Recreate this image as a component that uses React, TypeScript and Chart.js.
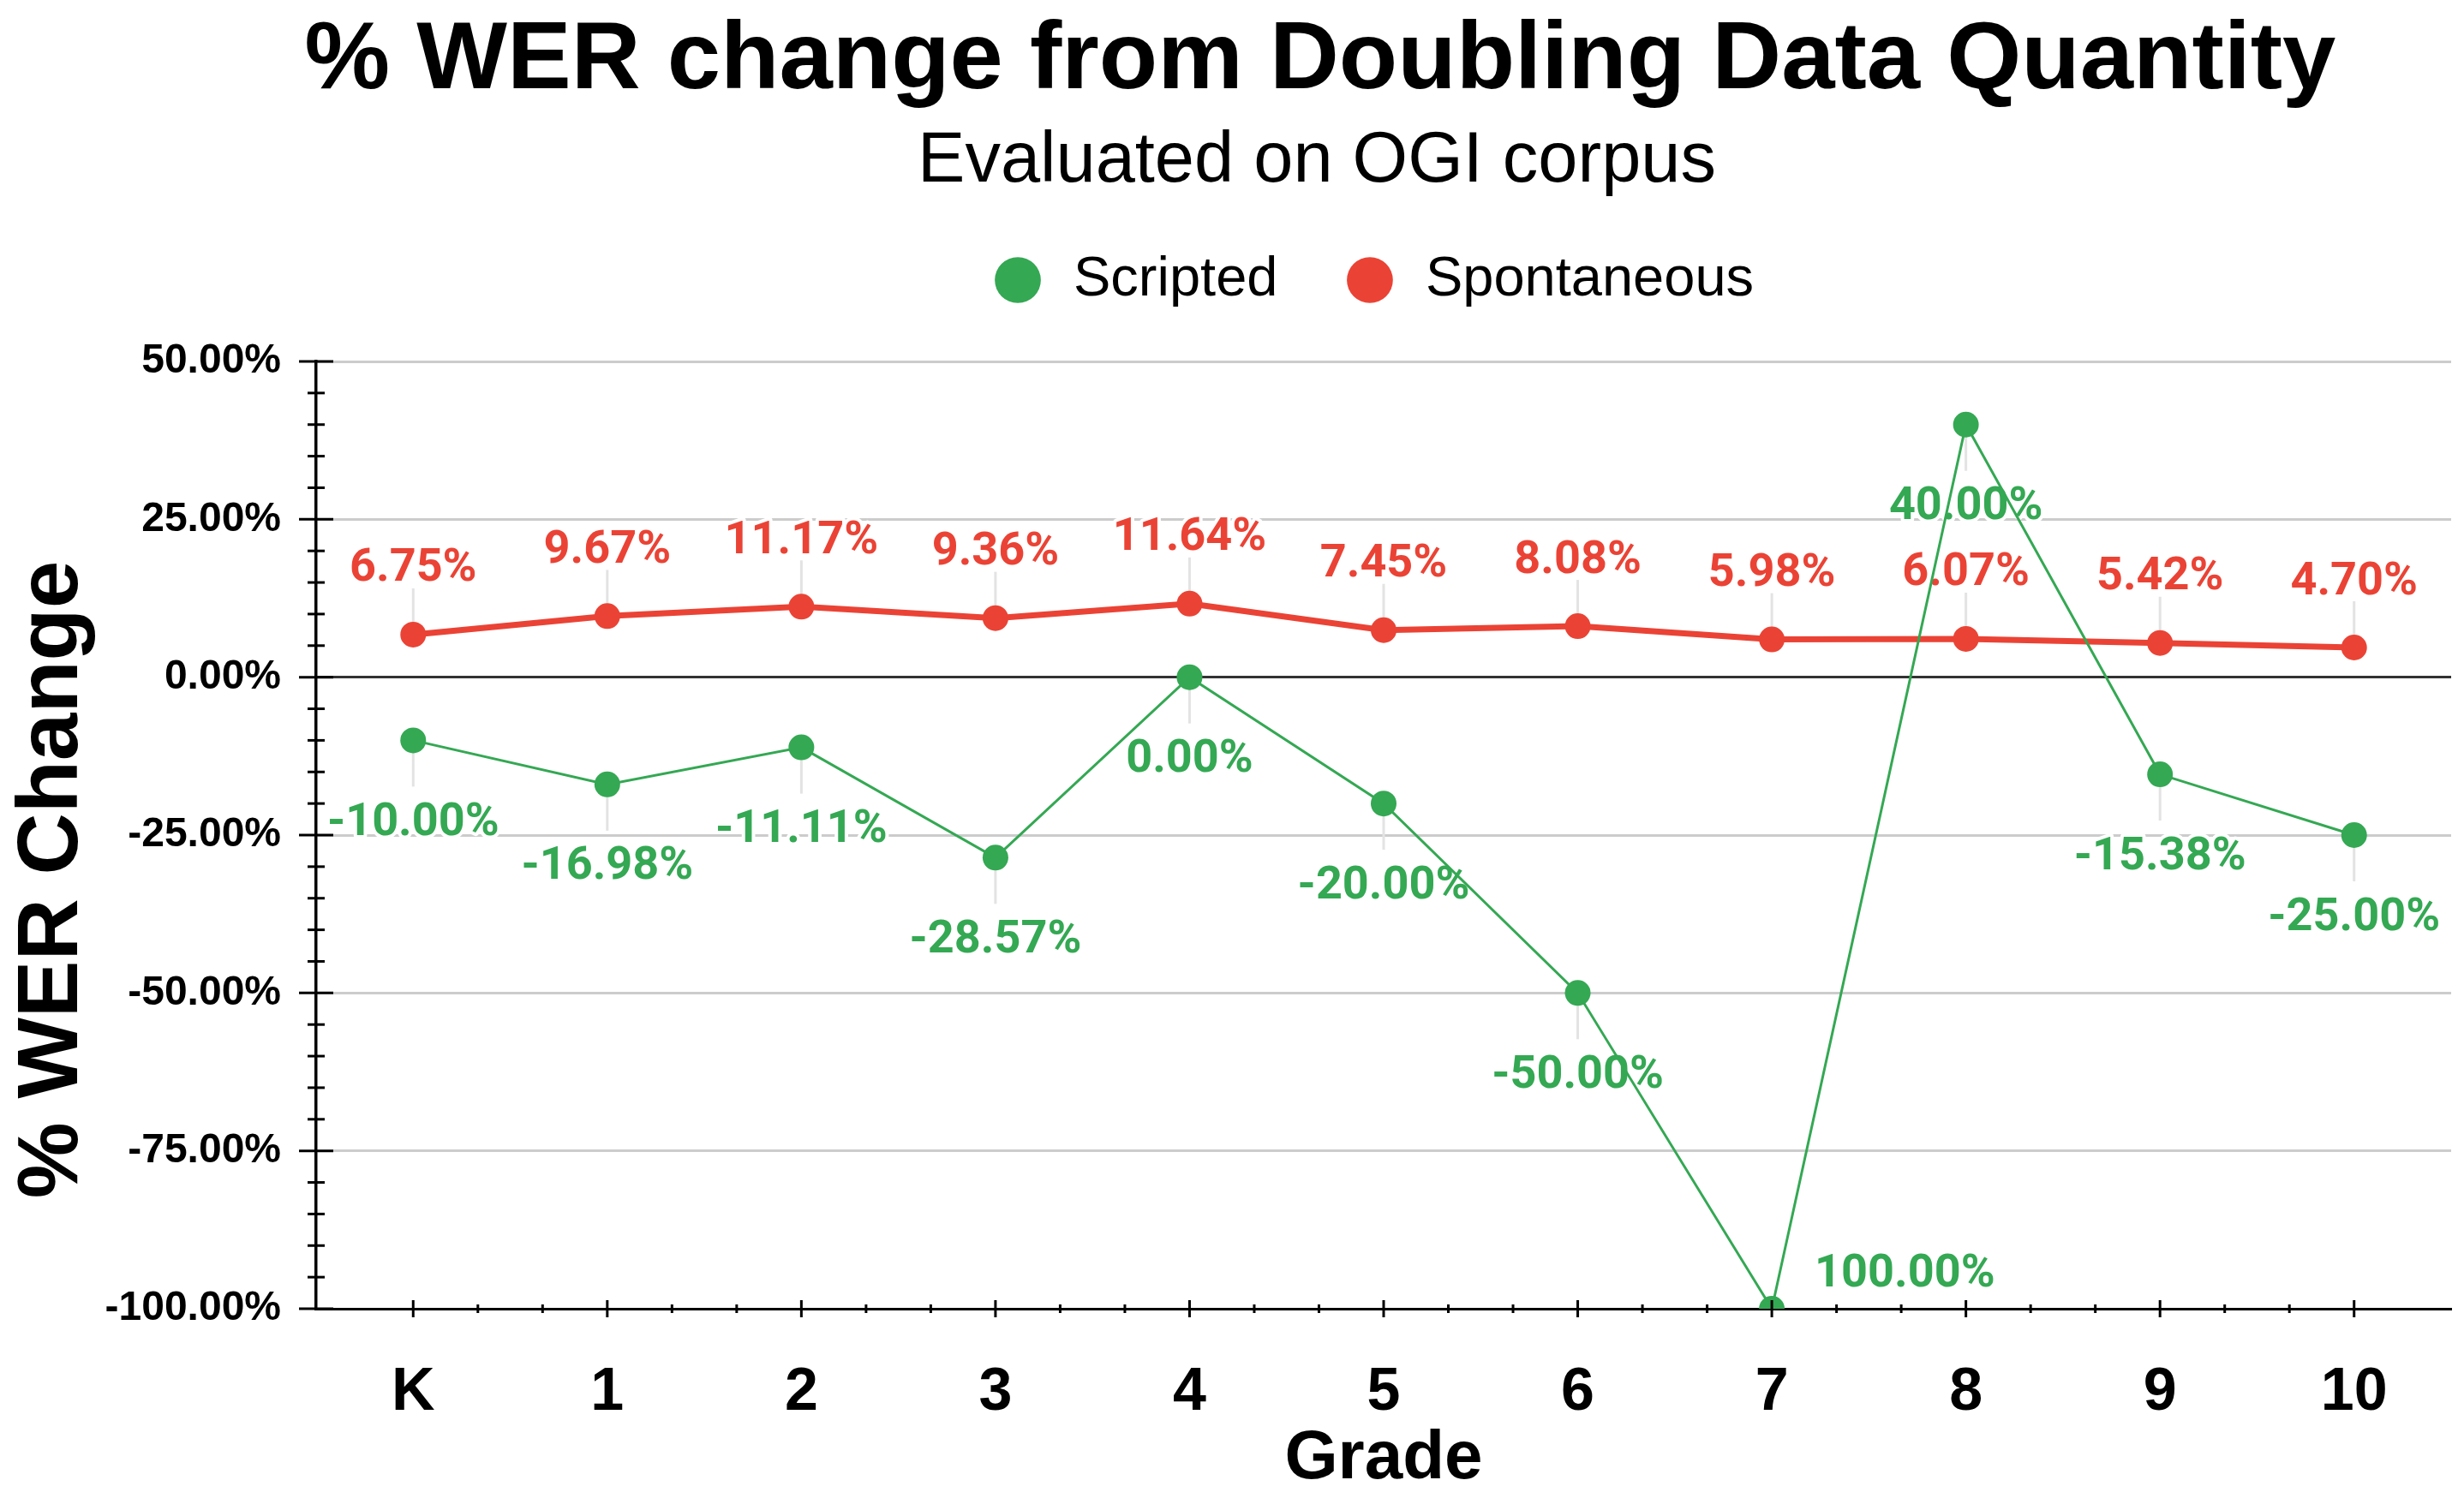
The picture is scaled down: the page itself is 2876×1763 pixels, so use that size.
import React, { useEffect, useRef } from 'react';
import { Chart, registerables } from 'chart.js';

Chart.register(...registerables);

const W = 2876;
const H = 1763;

const grades = ['K', '1', '2', '3', '4', '5', '6', '7', '8', '9', '10'];
const scripted = [-10, -16.98, -11.11, -28.57, 0, -20, -50, -100, 40, -15.38, -25];
const spontaneous = [6.75, 9.67, 11.17, 9.36, 11.64, 7.45, 8.08, 5.98, 6.07, 5.42, 4.7];
const seriesNames = ['Scripted', 'Spontaneous'];
const seriesColors = ['#34A853', '#EA4335'];
const seriesLineWidths = [3, 7];
const labelSides = ['below', 'above'];

const TITLE = '% WER change from Doubling Data Quantity';
const SUBTITLE = 'Evaluated on OGI corpus';
const X_TITLE = 'Grade';
const Y_TITLE = '% WER Change';

const Y_MIN = -100;
const Y_MAX = 50;
const Y_MAJOR = 25;
const Y_MINOR = 5;
const X_MINOR_PER_CAT = 3;

const SANS = '"Liberation Sans", Arial, sans-serif';
const LABEL_FONT = 'Roboto';
const LEGEND_FONT = 65;
const LEGEND_PAD = 75;

const fmt = (v: number) => v.toFixed(2) + '%';

const layoutShift = {
  id: 'layoutShift',
  afterLayout(chart: any) {
    const t = chart.titleBlock;
    const sub = chart.boxes.find((b: any) => b !== t && b.options && b.options.text === SUBTITLE);
    const lg = chart.legend;
    const place = (b: any, cx: number, top: number) => {
      if (!b) return;
      const h = b.bottom - b.top;
      const dx = cx - (b.left + b.right) / 2;
      b.left += dx;
      b.right += dx;
      b.top = top;
      b.bottom = top + h;
    };
    place(t, 1541, 72 - 67.2);
    place(sub, 1537, 189 - 49.8);
    if (lg && lg.lineWidths) {
      const naturalStart = (lg.left + LEGEND_PAD + lg.right - lg.lineWidths[0]) / 2;
      const dx = 1155.5 - naturalStart;
      const h = lg.bottom - lg.top;
      lg.left += dx;
      lg.right += dx;
      lg.top = 327 - LEGEND_FONT / 2 - LEGEND_PAD;
      lg.bottom = lg.top + h;
    }
  },
};

const pointLabels = {
  id: 'pointLabels',
  beforeDatasetsDraw(chart: any) {
    const ctx = chart.ctx;
    const yScale = chart.scales.y;
    chart.data.datasets.forEach((ds: any, di: number) => {
      const meta = chart.getDatasetMeta(di);
      const side = labelSides[di];
      meta.data.forEach((pt: any, i: number) => {
        const v = ds.data[i];
        const px = pt.x;
        const py = pt.y;
        ctx.save();
        ctx.font = `bold 54px ${LABEL_FONT}`;
        ctx.textBaseline = 'middle';
        ctx.lineJoin = 'round';
        let text = fmt(v);
        let tx = px;
        let ty;
        if (v <= yScale.min) {
          text = fmt(Math.abs(v));
          ctx.textAlign = 'left';
          tx = px + 50;
          ty = py - 40;
        } else {
          ctx.textAlign = 'center';
          ctx.strokeStyle = '#e3e3e3';
          ctx.lineWidth = 3;
          ctx.beginPath();
          ctx.moveTo(px, py);
          ctx.lineTo(px, side === 'above' ? py - 54 : py + 54);
          ctx.stroke();
          ty = side === 'above' ? py - 76 : py + 97;
        }
        ctx.strokeStyle = '#ffffff';
        ctx.lineWidth = 8;
        ctx.strokeText(text, tx, ty);
        ctx.fillStyle = seriesColors[di];
        ctx.fillText(text, tx, ty);
        ctx.restore();
      });
    });
  },
};

const axisExtras = {
  id: 'axisExtras',
  afterDraw(chart: any) {
    const ctx = chart.ctx;
    const area = chart.chartArea;
    const xs = chart.scales.x;
    const ys = chart.scales.y;
    ctx.save();
    ctx.strokeStyle = '#000';
    ctx.lineWidth = 3;
    for (let v = Y_MIN; v <= Y_MAX; v += Y_MINOR) {
      const py = ys.getPixelForValue(v);
      const len = v % Y_MAJOR === 0 ? 20 : 10;
      ctx.beginPath();
      ctx.moveTo(area.left - len, py);
      ctx.lineTo(area.left + len, py);
      ctx.stroke();
    }
    const n = grades.length;
    for (let i = 0; i < n; i++) {
      const px = xs.getPixelForValue(i);
      ctx.beginPath();
      ctx.moveTo(px, area.bottom - 10);
      ctx.lineTo(px, area.bottom + 10);
      ctx.stroke();
      if (i < n - 1) {
        const step = (xs.getPixelForValue(i + 1) - px) / X_MINOR_PER_CAT;
        for (let k = 1; k < X_MINOR_PER_CAT; k++) {
          ctx.beginPath();
          ctx.moveTo(px + step * k, area.bottom - 5);
          ctx.lineTo(px + step * k, area.bottom + 5);
          ctx.stroke();
        }
      }
    }
    ctx.translate(62, 1027);
    ctx.rotate(-Math.PI / 2);
    ctx.font = `bold 100px ${SANS}`;
    ctx.fillStyle = '#000';
    ctx.textAlign = 'center';
    ctx.textBaseline = 'middle';
    ctx.fillText(Y_TITLE, 0, 0);
    ctx.restore();
  },
};

export default function App() {
  const ref = useRef<HTMLCanvasElement>(null);
  useEffect(() => {
    document.body.style.margin = '0';
    document.body.style.overflow = 'hidden';
    const canvas = ref.current;
    if (!canvas) return;
    const chart = new Chart(canvas, {
      type: 'line',
      data: {
        labels: grades,
        datasets: [scripted, spontaneous].map((d, i) => ({
          label: seriesNames[i],
          data: d,
          borderColor: seriesColors[i],
          backgroundColor: seriesColors[i],
          borderWidth: seriesLineWidths[i],
          pointRadius: 15,
          pointHoverRadius: 15,
          pointBorderWidth: 0,
          pointBackgroundColor: seriesColors[i],
          tension: 0,
          fill: false,
        })),
      },
      options: {
        responsive: false,
        animation: false,
        events: [],
        layout: { padding: { top: 38, right: 14, left: 0, bottom: 0 } },
        plugins: {
          tooltip: { enabled: false },
          title: {
            display: true,
            text: TITLE,
            color: '#000',
            font: { family: SANS, size: 112, weight: 'bold', lineHeight: 1.2 },
            padding: 0,
          },
          subtitle: {
            display: true,
            text: SUBTITLE,
            color: '#000',
            font: { family: SANS, size: 83, weight: 'normal', lineHeight: 1.2 },
            padding: 0,
          },
          legend: {
            display: true,
            position: 'top',
            labels: {
              color: '#222',
              font: { family: SANS, size: LEGEND_FONT },
              usePointStyle: true,
              boxWidth: 65,
              boxHeight: 38,
              padding: LEGEND_PAD,
              generateLabels: (c: any) =>
                c.data.datasets.map((ds: any, i: number) => ({
                  text: ds.label,
                  fillStyle: seriesColors[i],
                  strokeStyle: seriesColors[i],
                  lineWidth: 0,
                  pointStyle: 'circle',
                  hidden: false,
                  datasetIndex: i,
                })),
            },
          },
        },
        scales: {
          x: {
            type: 'category',
            offset: true,
            grid: { display: false, drawTicks: false },
            border: { display: true, color: '#000', width: 3 },
            ticks: {
              color: '#000',
              font: { family: SANS, size: 70, weight: 'bold', lineHeight: 1.2 },
              padding: 57,
              autoSkip: false,
              maxRotation: 0,
            },
            title: {
              display: true,
              text: X_TITLE,
              color: '#000',
              font: { family: SANS, size: 80, weight: 'bold', lineHeight: 1.2 },
              padding: { top: 0, bottom: 11 },
            },
            afterFit: (s: any) => {
              s.height = 235;
            },
          },
          y: {
            type: 'linear',
            min: Y_MIN,
            max: Y_MAX,
            grid: {
              drawTicks: false,
              lineWidth: 3,
              color: (c: any) => (c.tick && c.tick.value === 0 ? '#333333' : '#cccccc'),
            },
            border: { display: true, color: '#000', width: 3.5 },
            ticks: {
              stepSize: Y_MAJOR,
              color: '#000',
              font: { family: SANS, size: 48, weight: 'bold' },
              padding: 41,
              callback: (v: any) => fmt(Number(v)),
            },
            afterFit: (s: any) => {
              s.width = 369;
            },
          },
        },
      },
      plugins: [layoutShift, pointLabels, axisExtras],
    } as any);
    return () => chart.destroy();
  }, []);
  return (
    <div style={{ width: W, height: H, position: 'relative' }}>
      <canvas ref={ref} width={W} height={H} style={{ display: 'block', width: W, height: H }} />
    </div>
  );
}
